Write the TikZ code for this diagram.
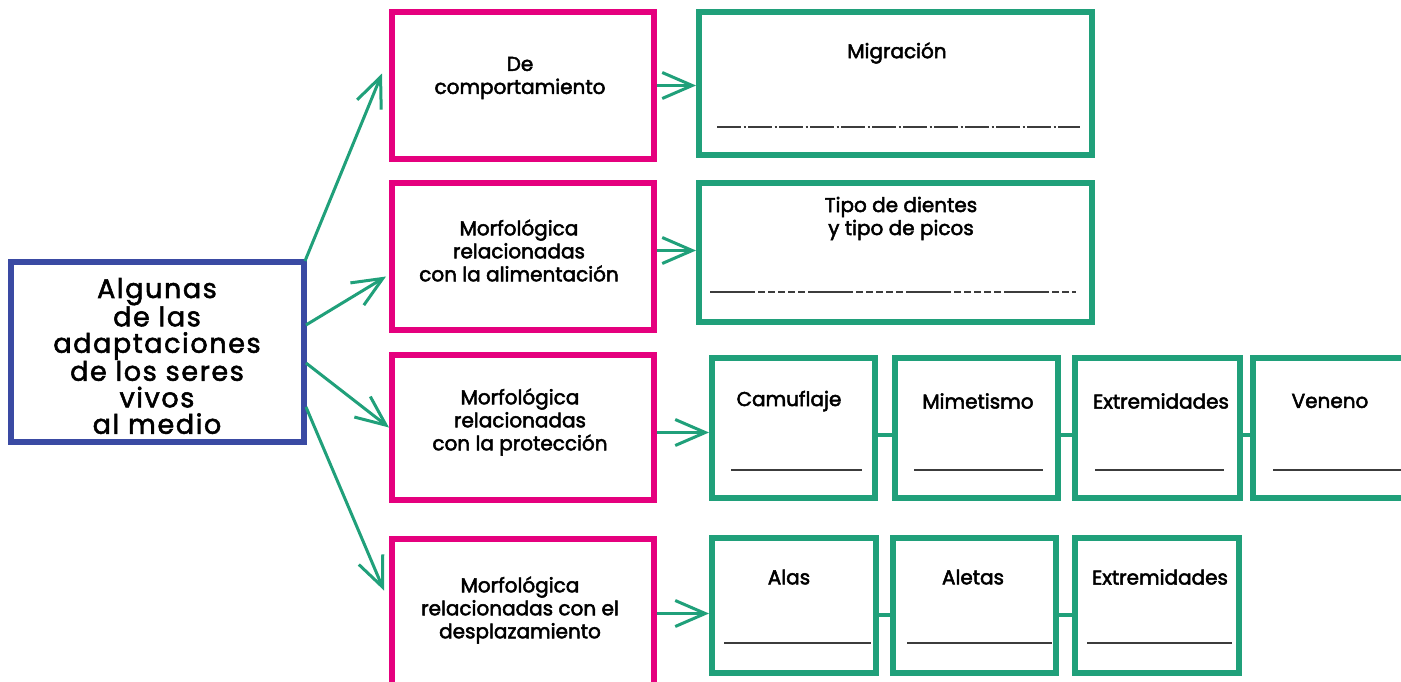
\documentclass[tikz,border=0pt]{standalone}
\usepackage{fontspec}
\setmainfont{Poppins}
\newfontfamily\labf{Poppins}[FakeBold=2.5]
\newfontfamily\bigfam{Poppins}[LetterSpace=6,FakeBold=2]
\usetikzlibrary{arrows.meta}
\definecolor{cblue}{HTML}{3A4AA3}
\definecolor{cpink}{HTML}{E5007E}
\definecolor{cgreen}{HTML}{20A07A}
\definecolor{cline}{HTML}{3C3C3C}
\begin{document}
\begin{tikzpicture}[x=1pt,y=-1pt,
  bluebox/.style={draw=cblue,line width=6pt,rectangle,inner sep=0pt},
  pinkbox/.style={draw=cpink,line width=6pt,rectangle,inner sep=0pt},
  greenbox/.style={draw=cgreen,line width=6pt,rectangle,inner sep=0pt},
  lbl/.style={font=\labf\fontsize{20}{23}\selectfont,align=center,inner sep=0pt,text=black},
  biglbl/.style={font=\bigfam\fontsize{27}{26.5}\selectfont,align=center,inner sep=0pt,text=black},
  conn/.style={draw=cgreen,line width=3pt,-{Straight Barb[length=30pt,width=26pt,line width=3pt]}},
  linkline/.style={draw=cgreen,line width=4pt},
  blank/.style={draw=cline,line width=1.4pt}]
\useasboundingbox (0,0) rectangle (1401,681);
\clip (0,0) rectangle (1401,681);
\fill[white] (0,0) rectangle (1401,681);

% main box
\node[bluebox,minimum width=293pt,minimum height=180pt] (main) at (157.5,352) {};
\node[biglbl] (maint) at (157,356) {Algunas\\de las\\adaptaciones\\de los seres\\vivos\\al medio};

% pink boxes
\node[pinkbox,minimum width=262pt,minimum height=147pt] (p1) at (523,85.5) {};
\node[lbl] (p1t) at (520,78) {De\\comportamiento};
\node[pinkbox,minimum width=262pt,minimum height=147pt] (p2) at (523,256.5) {};
\node[lbl] (p2t) at (519,250.5) {Morfológica\\relacionadas\\con la alimentación};
\node[pinkbox,minimum width=262pt,minimum height=145pt] (p3) at (523,427.5) {};
\node[lbl] (p3t) at (520,422) {Morfológica\\relacionadas\\con la protección};
\node[pinkbox,minimum width=262pt,minimum height=161pt] (p4) at (523,619.5) {};
\node[lbl] (p4t) at (520,610) {Morfológica\\relacionadas con el\\desplazamiento};

% big green boxes
\node[greenbox,minimum width=393pt,minimum height=143pt] (g1) at (895.5,83.5) {};
\node[lbl] (g1t) at (897,53) {Migración};
\draw[blank,dash pattern=on 24pt off 2.5pt on 2pt off 2.5pt] (717,127) -- (1080,127);
\node[greenbox,minimum width=393pt,minimum height=139pt] (g2) at (895.5,252.5) {};
\node[lbl] (g2t) at (901,218.5) {Tipo de dientes\\y tipo de picos};
\draw[blank,dash pattern=on 45pt off 3pt on 7pt off 3pt on 7pt off 3pt on 7pt off 3pt on 7pt off 3pt on 7pt off 3pt] (710,292) -- (1076,292);

% row 3
\node[greenbox,minimum width=163pt,minimum height=140pt] (c1) at (793.5,428) {};
\node[greenbox,minimum width=163pt,minimum height=140pt] (c2) at (976.5,428) {};
\node[greenbox,minimum width=165pt,minimum height=140pt] (c3) at (1157.5,428) {};
\node[greenbox,minimum width=163pt,minimum height=140pt] (c4) at (1334.5,428) {};
\node[lbl] (c1t) at (789,401) {Camuflaje};
\node[lbl] (c2t) at (978,401) {Mimetismo};
\node[lbl] (c3t) at (1161,401) {Extremidades};
\node[lbl] (c4t) at (1330,401) {Veneno};
\draw[blank] (731,470) -- (862,470);
\draw[blank] (914,470) -- (1043,470);
\draw[blank] (1095,470) -- (1224,470);
\draw[blank] (1273,470) -- (1401,470);

% row 4
\node[greenbox,minimum width=164pt,minimum height=135pt] (d1) at (794,605.5) {};
\node[greenbox,minimum width=163pt,minimum height=135pt] (d2) at (974.5,605.5) {};
\node[greenbox,minimum width=164pt,minimum height=135pt] (d3) at (1157,605.5) {};
\node[lbl] (d1t) at (789,577) {Alas};
\node[lbl] (d2t) at (973,577) {Aletas};
\node[lbl] (d3t) at (1160,577) {Extremidades};
\draw[blank] (724,643) -- (871,643);
\draw[blank] (907,643) -- (1052,643);
\draw[blank] (1087,643) -- (1232,643);

% connectors from main
\draw[conn] ([xshift=-2pt,yshift=-2pt]main.north east) -- ([xshift=-7pt,yshift=12pt]p1.west);
\draw[conn] ([xshift=-1pt,yshift=27pt]main.east) -- ([xshift=-3pt,yshift=-20pt]p2.west);
\draw[conn] ([xshift=-1pt,yshift=-11pt]main.east) -- ([xshift=0pt]p3.west);
\draw[conn] ([xshift=-1pt,yshift=-55pt]main.east) -- ([xshift=-5pt,yshift=29pt]p4.west);

% pink to green
\draw[conn] ([yshift=0pt]p1.east) -- ([yshift=0pt]p1.east -| g1.west);
\draw[conn] ([yshift=6pt]p2.east) -- ([yshift=6pt]p2.east -| g2.west);
\draw[conn] ([yshift=-5pt]p3.east) -- ([yshift=-5pt]p3.east -| c1.west);
\draw[conn] ([yshift=6pt]p4.east) -- ([yshift=6pt]p4.east -| d1.west);

% links
\draw[linkline] ([yshift=-7pt]c1.east) -- ([yshift=-7pt]c2.west);
\draw[linkline] ([yshift=-7pt]c2.east) -- ([yshift=-7pt]c3.west);
\draw[linkline] ([yshift=-7pt]c3.east) -- ([yshift=-7pt]c4.west);
\draw[linkline] ([yshift=-9.5pt]d1.east) -- ([yshift=-9.5pt]d2.west);
\draw[linkline] ([yshift=-9.5pt]d2.east) -- ([yshift=-9.5pt]d3.west);
\end{tikzpicture}
\end{document}
